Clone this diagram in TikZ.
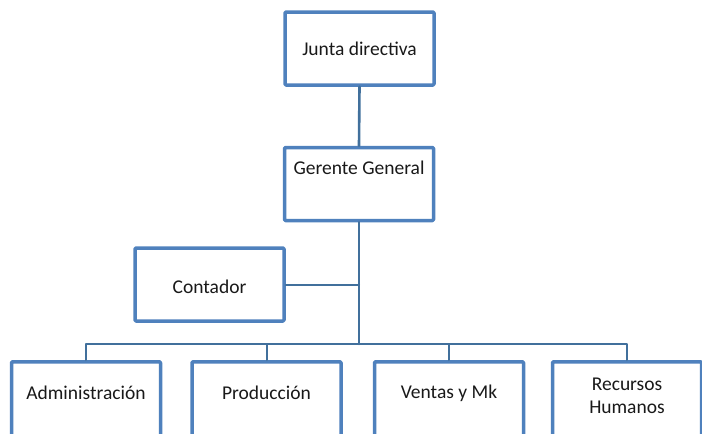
\documentclass[tikz,border=0pt]{standalone}
\usepackage{fontspec}
\setmainfont{Carlito}
\definecolor{boxblue}{HTML}{4F81BD}
\definecolor{linkblue}{HTML}{41709C}
\begin{document}
\begin{tikzpicture}[x=1pt,y=-1pt,line cap=round,line join=round]
  \tikzset{
    unit/.style={draw=boxblue,line width=3.5pt,fill=white,rounded corners=1pt,
      minimum width=149pt,minimum height=73pt,inner sep=0pt},
    dept/.style={unit,anchor=north,minimum height=90pt},
    tag/.style={font=\fontsize{19.5}{22.5}\selectfont,text=black!90,align=center,inner sep=0pt},
    link/.style={draw=linkblue,line width=2.6pt},
    bus/.style={draw=linkblue,line width=2pt}
  }
  \useasboundingbox (0,0) rectangle (702,434);
  % upper chain
  \node[unit] (junta) at (359.5,48.5) {};
  \node[tag] (juntatxt) at (junta.center) {Junta directiva};
  \node[unit] (gerente) at (359,184) {};
  \node[tag] (gerentetxt) at ([yshift=16pt]gerente.center) {Gerente General};
  \node[unit] (contador) at (209.5,284.5) {};
  \node[tag] (contadortxt) at ([yshift=-2pt]contador.center) {Contador};
  % departments hang from the bus
  \node[dept] (admin) at (86,360) {};
  \node[dept] (prod) at (266.5,360) {};
  \node[dept] (ventas) at (449,360) {};
  \node[dept] (rrhh) at (627,360) {};
  \node[tag] (admintxt) at (86,393) {Administración};
  \node[tag] (prodtxt) at (266.5,393) {Producción};
  \node[tag] (ventastxt) at (449,393) {Ventas y Mk};
  \node[tag] (rrhhtxt) at (627,396) {Recursos\\Humanos};
  \coordinate (hub) at (358,344);
  \draw[link] (junta.south) -- (gerente.north);
  \draw[link] (gerente.south) -- (gerente.south |- hub);
  \draw[bus] (contador.east) -- (contador.east -| gerente.south);
  \draw[bus] (admin.north) |- (hub) -| (rrhh.north);
  \draw[bus] (prod.north) -- (prod.north |- hub);
  \draw[bus] (ventas.north) -- (ventas.north |- hub);
\end{tikzpicture}
\end{document}
